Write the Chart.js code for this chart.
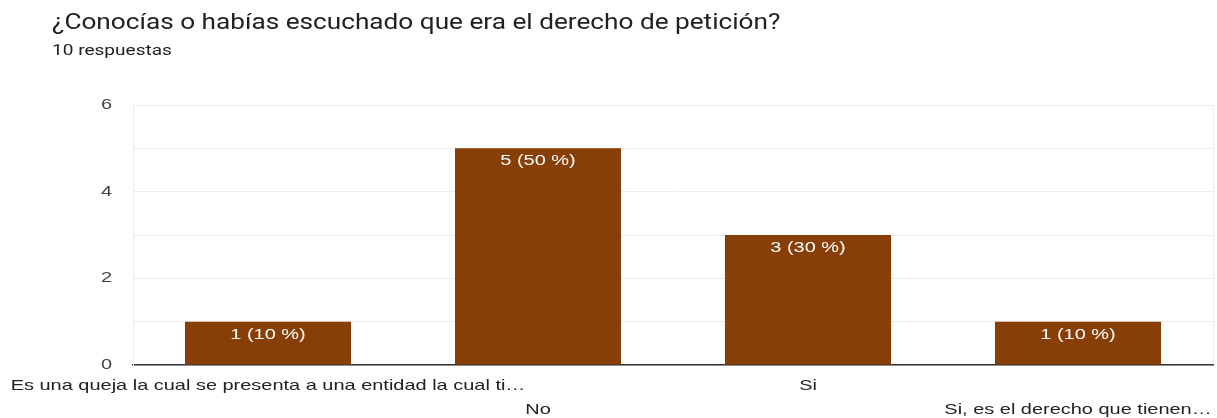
<!DOCTYPE html>
<html>
<head>
<meta charset="utf-8">
<script src="https://cdn.jsdelivr.net/npm/chart.js@4"></script>
<style>
  html, body { margin: 0; padding: 0; background: #fff; }
  #wrap { position: relative; width: 1217px; height: 418px; overflow: hidden; }
  #title { position: absolute; left: 52px; top: 9px; font-family: Roboto, "Noto Sans", sans-serif; font-size: 22px; color: #202124; white-space: nowrap; transform: scaleX(1.19); transform-origin: 0 0; }
  #subtitle { position: absolute; left: 52px; top: 41px; font-family: Roboto, "Noto Sans", sans-serif; font-size: 15px; color: #202124; white-space: nowrap; transform: scaleX(1.27); transform-origin: 0 0; }
  canvas { position: absolute; left: 0; top: 0; }
</style>
</head>
<body>
<div id="wrap">
  <canvas id="c" width="1217" height="418"></canvas>
  <div id="title">¿Conocías o habías escuchado que era el derecho de petición?</div>
  <div id="subtitle">10 respuestas</div>
</div>
<script>
const categories = [
  "Es una queja la cual se presenta a una entidad la cual ti…",
  "No",
  "Si",
  "Si, es el derecho que tienen…"
];
const counts = [1, 5, 3, 1];
const yTicks = [0, 2, 4, 6];
const totalResponses = 10;

const barColor = "#873E07";
const valueLabels = counts.map(v => `${v} (${Math.round(v / totalResponses * 100)} %)`);
const STRETCH = 1.33;
const FONT = '"Liberation Sans", Arial, sans-serif';

function stretchedText(ctx, text, x, y, align) {
  ctx.save();
  ctx.translate(x, y);
  ctx.scale(STRETCH, 1);
  ctx.textAlign = align;
  ctx.fillText(text, 0, 0);
  ctx.restore();
}

const textPlugin = {
  id: 'stretchedText',
  afterDatasetsDraw(chart) {
    const ctx = chart.ctx;
    const meta = chart.getDatasetMeta(0);
    const xs = chart.scales.x, ys = chart.scales.y;
    ctx.save();
    ctx.textBaseline = 'middle';
    // value labels inside bars
    ctx.fillStyle = '#ffffff';
    ctx.font = '15px ' + FONT;
    meta.data.forEach((bar, i) => stretchedText(ctx, valueLabels[i], bar.x, bar.y + 13, 'center'));
    // y tick labels
    ctx.fillStyle = '#444444';
    ctx.font = '15px ' + FONT;
    yTicks.forEach(v => stretchedText(ctx, String(v), 112, ys.getPixelForValue(v), 'right'));
    // x category labels, staggered on two rows
    ctx.fillStyle = '#222222';
    ctx.font = '15px ' + FONT;
    categories.forEach((c, i) => {
      const y = xs.bottom - 54 + (i % 2 === 0 ? 22 : 46);
      stretchedText(ctx, c, xs.getPixelForValue(i), y, 'center');
    });
    ctx.restore();
  }
};

new Chart(document.getElementById('c'), {
  type: 'bar',
  data: {
    labels: categories,
    datasets: [{
      data: counts,
      backgroundColor: barColor,
      borderWidth: 0,
      categoryPercentage: 0.615,
      barPercentage: 1.0
    }]
  },
  options: {
    responsive: false,
    animation: false,
    layout: { padding: { top: 105, left: 0, right: 4, bottom: 0 } },
    plugins: {
      legend: { display: false },
      tooltip: { enabled: false },
      title: { display: false }
    },
    scales: {
      x: {
        offset: true,
        grid: {
          offset: true,
          drawTicks: false,
          color: (ctx) => ctx.type === 'tick' ? 'rgba(0,0,0,0)' : '#ececec',
          lineWidth: 1
        },
        border: { display: true, color: '#333333', width: 1.5 },
        ticks: { display: false },
        afterFit: (scale) => { scale.paddingLeft = 0; scale.paddingRight = 0; scale.height = 53; }
      },
      y: {
        min: 0,
        max: 6,
        grid: { color: '#ececec', lineWidth: 1, drawTicks: false },
        border: { display: true, color: '#ececec' },
        ticks: { display: false, stepSize: 1 },
        afterFit: (scale) => { scale.width = 133; }
      }
    }
  },
  plugins: [textPlugin]
});
</script>
</body>
</html>
